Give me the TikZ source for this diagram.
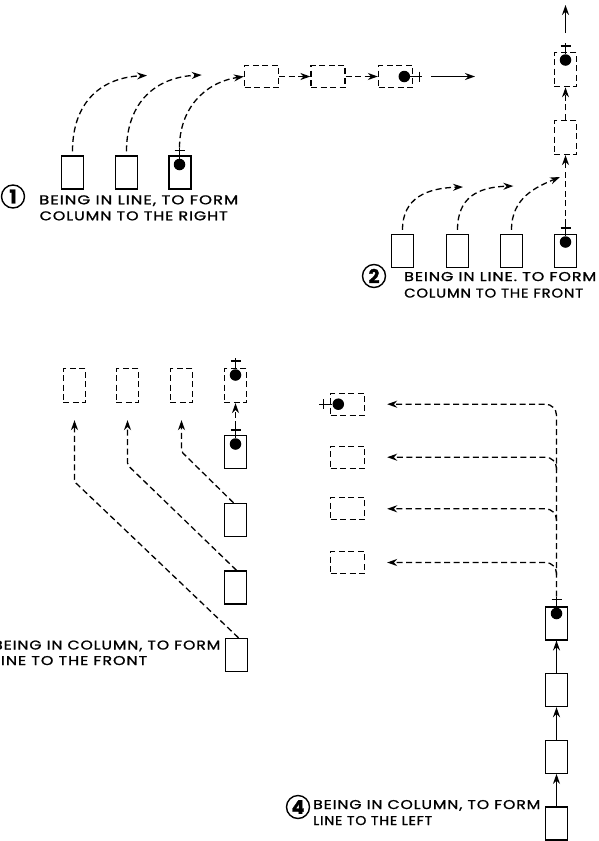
\documentclass[tikz,border=0pt]{standalone}
\usepackage{fontspec}
\usepackage{graphicx}
\newfontfamily\lblfont[LetterSpace=6,FakeBold=1.2]{Poppins}
\newfontfamily\numfont[FakeBold=1.5]{Poppins}
\usetikzlibrary{arrows.meta}
\newcommand\lbltext[2]{\resizebox{#1pt}{9pt}{\lblfont #2}}
\tikzset{
  sbox/.style={draw, line width=1.4pt, minimum width=22pt, minimum height=33pt, inner sep=0pt},
  dbv/.style={draw, line width=1.3pt, dash pattern=on 6pt off 3.5pt, minimum width=22.5pt, minimum height=34pt, inner sep=0pt},
  dbh/.style={draw, line width=1.3pt, dash pattern=on 6pt off 3.5pt, minimum width=34pt, minimum height=22pt, inner sep=0pt},
  dline/.style={line width=1.3pt, dash pattern=on 6pt off 3.5pt},
  darrow/.style={dline, -{Stealth[length=10pt,width=7pt]}},
  sarrow/.style={line width=1.3pt, -{Stealth[length=10pt,width=7pt]}},
  pdot/.style={circle, fill, inner sep=0pt, minimum size=11.5pt},
  plusln/.style={line width=1.2pt},
  numc/.style={circle, draw, line width=1.4pt, minimum size=23pt, inner sep=0pt, font=\numfont\bfseries\fontsize{19}{19}\selectfont},
  lbl/.style={anchor=base west, inner sep=0pt},
}
\newcommand\plusup[1]{%
  \draw[plusln] (#1.north) -- ++(0,-11) coordinate (#1-pt);
  \draw[plusln] ([shift={(-5,-8)}]#1.north) -- ++(10,0);}
\newcommand\plusright[1]{%
  \draw[plusln] (#1.east) -- ++(12,0) coordinate (#1-pt);
  \draw[plusln] ([shift={(9,-5)}]#1.east) -- ++(0,10);}
\newcommand\plusleft[1]{%
  \draw[plusln] (#1.west) -- ++(-13,0) coordinate (#1-pt);
  \draw[plusln] ([shift={(-9,-5)}]#1.west) -- ++(0,10);}
\begin{document}
\begin{tikzpicture}[x=1pt,y=-1pt]
\useasboundingbox (0,0) rectangle (599,841);
\fill[white] (0,0) rectangle (599,841);

% ---------- Diagram 1 ----------
\node[sbox] (a1) at (72.5,172.5) {};
\node[sbox] (a2) at (126.5,172.5) {};
\node[sbox] (a3) at (180,172.5) {};
\node[pdot] (a3d) at (179.5,164.5) {};
\plusup{a3d}
\node[dbh] (dA) at (261.5,76.5) {};
\node[dbh] (dB) at (328,76.5) {};
\node[dbh] (dC) at (395.5,76.5) {};
\node[pdot] (dCd) at (404.3,76.5) {};
\plusright{dCd}
\coordinate (a1e) at (147,75.5);
\coordinate (a2e) at (201.7,75);
\draw[darrow] ([yshift=4pt]a1.north) .. controls +(0,-50) and +(-45,2) .. (a1e);
\draw[darrow] ([yshift=4pt]a2.north) .. controls +(0,-50) and +(-45,2) .. (a2e);
\draw[darrow] (a3d-pt) .. controls +(0,-38) and +(-40,6) .. (dA.west);
\draw[darrow] (dA) -- (dB);
\draw[darrow] (dB) -- (dC);
\coordinate (dCs) at (431,76.5);
\coordinate (dCe) at (475,76.5);
\draw[sarrow] (dCs) -- (dCe);
\node[numc] (n1) at (13,196.5) {1};
\node[lbl] (t1a) at (39,204.3) {\lbltext{199}{BEING IN LINE, TO FORM}};
\node[lbl] (t1b) at (39.5,220.3) {\lbltext{188}{COLUMN TO THE RIGHT}};

% ---------- Diagram 2 ----------
\node[sbox] (b1) at (402.5,251) {};
\node[sbox] (b2) at (457.5,251) {};
\node[sbox] (b3) at (511.5,251) {};
\node[sbox] (b4) at (565.5,251) {};
\node[pdot] (b4d) at (565.5,242) {};
\plusup{b4d}
\node[dbv] (dU) at (565.5,69.7) {};
\node[dbv] (dL) at (565.5,137.5) {};
\node[pdot] (dUd) at (565.5,60) {};
\plusup{dUd}
\coordinate (dUs) at (565.5,33);
\coordinate (dUe) at (565.5,5);
\draw[sarrow] (dUs) -- (dUe);
\draw[darrow] (b4d-pt) -- (dL.south);
\draw[darrow] (dL) -- (dU);
\coordinate (b1e) at (463,187);
\coordinate (b2e) at (513.3,186);
\coordinate (b3e) at (560,177);
\draw[darrow] ([yshift=4pt]b1.north) .. controls +(0,-32) and +(-36,1) .. (b1e);
\draw[darrow] ([yshift=4pt]b2.north) .. controls +(0,-32) and +(-36,1) .. (b2e);
\draw[darrow] ([yshift=4pt]b3.north) .. controls +(0,-32) and +(-24,10) .. (b3e);
\node[numc] (n2) at (374,276) {2};
\node[lbl] (t2a) at (404,281) {\lbltext{192}{BEING IN LINE. TO FORM}};
\node[lbl] (t2b) at (404,297.5) {\lbltext{179}{COLUMN TO THE FRONT}};

% ---------- Diagram 3 ----------
\node[dbv] (u1) at (74.5,385.5) {};
\node[dbv] (u2) at (127.5,385.5) {};
\node[dbv] (u3) at (181.5,385.5) {};
\node[dbv] (u4) at (235.5,385.5) {};
\node[pdot] (u4d) at (235.5,375) {};
\plusup{u4d}
\node[sbox] (s0) at (235.5,452) {};
\node[pdot] (s0d) at (235.5,444) {};
\plusup{s0d}
\node[sbox] (sB) at (235.5,520) {};
\node[sbox] (sC) at (235.5,587.5) {};
\node[sbox] (sD) at (236.5,655) {};
\draw[darrow] (s0d-pt) -- (u4.south);
\draw[darrow, rounded corners=2pt] ([xshift=-2pt]sB.north) -- (181.5,451.7) -- ([yshift=-17pt]u3.south);
\draw[darrow, rounded corners=2pt] ([xshift=1pt]sC.north) -- (127.5,465) -- ([yshift=-17pt]u2.south);
\draw[darrow, rounded corners=2pt] ([xshift=2pt]sD.north) -- (74.5,481.7) -- ([yshift=-17pt]u1.south);
\node[lbl] (t3a) at (-7,649.5) {\lbltext{227}{BEING IN COLUMN, TO FORM}};
\node[lbl] (t3b) at (-7,665) {\lbltext{154}{LINE TO THE FRONT}};

% ---------- Diagram 4 ----------
\node[dbh] (h1) at (347.5,404.2) {};
\node[dbh] (h2) at (347.5,457.2) {};
\node[dbh] (h3) at (347.5,508.8) {};
\node[dbh] (h4) at (347.5,562.5) {};
\node[pdot] (h1d) at (338.3,404.2) {};
\plusleft{h1d}
\node[sbox] (v1) at (556.5,623.3) {};
\node[sbox] (v2) at (556.5,690) {};
\node[sbox] (v3) at (556.5,756.7) {};
\node[sbox] (v4) at (556.5,823.5) {};
\node[pdot] (v1d) at (556.5,613.5) {};
\plusup{v1d}
\draw[darrow, rounded corners=11pt] (v1d-pt) -- (556.5,404.2) -- ([xshift=22pt]h1.east);
\draw[darrow, rounded corners=11pt] (556.5,470) -- (556.5,457.2) -- ([xshift=22pt]h2.east);
\draw[darrow, rounded corners=11pt] (556.5,521) -- (556.5,508.8) -- ([xshift=22pt]h3.east);
\draw[darrow, rounded corners=11pt] (556.5,575) -- (556.5,562.5) -- ([xshift=22pt]h4.east);
\draw[sarrow] (v2) -- (v1);
\draw[sarrow] (v3) -- (v2);
\draw[sarrow] (v4) -- (v3);
\node[numc] (n4) at (298,807) {4};
\node[lbl] (t4a) at (313,809) {\lbltext{227}{BEING IN COLUMN, TO FORM}};
\node[lbl] (t4b) at (313,825) {\lbltext{119}{LINE TO THE LEFT}};
\end{tikzpicture}
\end{document}
